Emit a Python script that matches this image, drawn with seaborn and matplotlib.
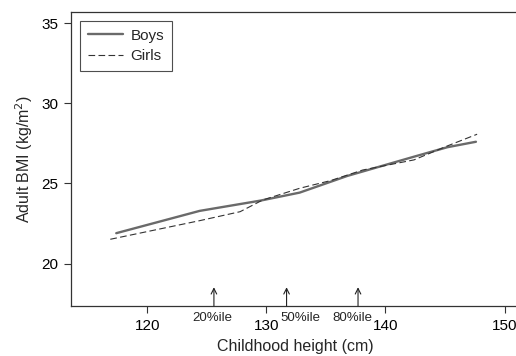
import matplotlib
matplotlib.use("Agg")
import matplotlib.pyplot as plt
import seaborn as sns
import pandas as pd

boys_height = [117.4, 124.4, 129.5, 132.8, 136.8, 142.4, 145.2, 147.6]
boys_bmi = [21.9, 23.29, 23.93, 24.43, 25.47, 26.67, 27.26, 27.6]
girls_height = [116.9, 124.4, 127.8, 129.7, 132.8, 135.4, 138.1, 142.4, 145.2, 147.7]
girls_bmi = [21.52, 22.68, 23.24, 23.97, 24.7, 25.18, 25.84, 26.47, 27.34, 28.07]
pct_positions = [125.6, 131.7, 137.7]
pct_label_positions = [125.5, 132.9, 137.2]
pct_labels = ["20%ile", "50%ile", "80%ile"]
x_ticks = [120, 130, 140, 150]
y_ticks = [20, 25, 30, 35]

sns.set_style("ticks")
plt.rcParams["font.family"] = ["Liberation Sans", "DejaVu Sans"]

df = pd.concat([
    pd.DataFrame({"height": boys_height, "bmi": boys_bmi, "sex": "Boys"}),
    pd.DataFrame({"height": girls_height, "bmi": girls_bmi, "sex": "Girls"}),
])

fig = plt.figure(figsize=(5.16, 3.56), dpi=100)
fig.patch.set_facecolor("white")
fig.patch.set_edgecolor("white")
ax = fig.add_axes([71 / 516, 1 - 306 / 356, 449 / 516, 0.8258])
ax.patch.set_visible(False)

sns.lineplot(data=df[df.sex == "Boys"], x="height", y="bmi", ax=ax,
             color="#6a6a6a", linewidth=1.7, label="Boys", sort=True)
sns.lineplot(data=df[df.sex == "Girls"], x="height", y="bmi", ax=ax,
             color="#333333", linewidth=0.8, linestyle=(0, (6, 3)), label="Girls", sort=True)

ax.set_xlim(113.6, 151.3)
ax.set_ylim(17.36, 35.69)
ax.set_xticks(x_ticks)
ax.set_yticks(y_ticks)
ax.tick_params(labelsize=11, length=5, width=0.8, pad=4, colors="#333333", labelcolor="black")
ax.set_xlabel("Childhood height (cm)", fontsize=11.5, labelpad=5)
ax.set_ylabel("Adult BMI (kg/m$^2$)", fontsize=11.5, labelpad=5)
for s in ax.spines.values():
    s.set_color("#333333")
    s.set_linewidth(0.9)
ax.spines["right"].set_visible(False)
ax.spines["top"].set_bounds(113.6, 151.3)
ax.spines["bottom"].set_bounds(113.6, 151.3)

for xp, xl, lab in zip(pct_positions, pct_label_positions, pct_labels):
    ax.annotate("", xy=(xp, 18.53), xytext=(xp, 17.36),
                arrowprops=dict(arrowstyle="->", color="#222222", lw=0.8,
                                shrinkA=0, shrinkB=0, mutation_scale=10))
    ax.annotate(lab, xy=(xl, 0), xycoords=("data", "axes fraction"),
                xytext=(0, -4.5), textcoords="offset points",
                ha="center", va="top", fontsize=9.5)

leg = ax.legend(loc="upper left", frameon=True, fancybox=False, fontsize=11,
                handlelength=2.3, handletextpad=0.5, borderpad=0.5, labelspacing=0.42,
                borderaxespad=0, bbox_to_anchor=(0.02, 0.969))
leg.get_frame().set_edgecolor("#222222")
leg.get_frame().set_linewidth(0.8)

fig.savefig("out.png", dpi=100, facecolor="white")
